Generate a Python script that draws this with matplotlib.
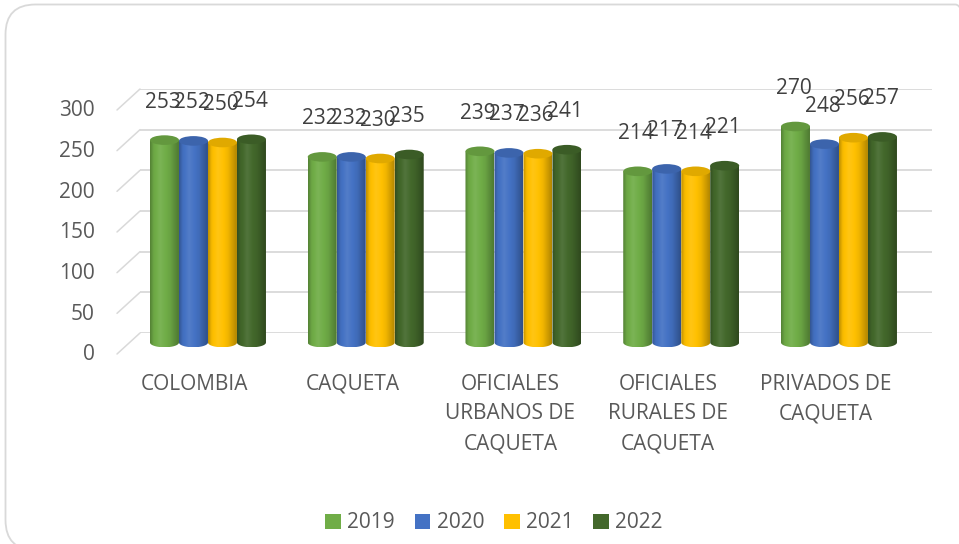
import numpy as np
import matplotlib
matplotlib.use("Agg")
import matplotlib.pyplot as plt
from matplotlib.patches import Ellipse, PathPatch, Patch, FancyBboxPatch
from matplotlib.path import Path
from matplotlib.colors import to_rgb

plt.rcParams['font.family'] = ['Open Sans', 'DejaVu Sans']

categories = ["COLOMBIA", "CAQUETA", "OFICIALES\nURBANOS DE\nCAQUETA",
              "OFICIALES\nRURALES DE\nCAQUETA", "PRIVADOS DE\nCAQUETA"]
years = ["2019", "2020", "2021", "2022"]
scores_2019 = [253, 232, 239, 214, 270]
scores_2020 = [252, 232, 237, 217, 248]
scores_2021 = [250, 230, 236, 214, 256]
scores_2022 = [254, 235, 241, 221, 257]
y_ticks = [0, 50, 100, 150, 200, 250, 300]

series = [scores_2019, scores_2020, scores_2021, scores_2022]
colors = ["#70AD47", "#4472C4", "#FFC000", "#43682B"]
grid_c = "#d9d9d9"
text_c = "#595959"
fs = 15

W, H = 959, 544
fig = plt.figure(figsize=(W / 100, H / 100), dpi=100)

# rounded chart border (bottom and right run off the canvas)
fig.add_artist(FancyBboxPatch((0.055, -0.06), 9.8, 5.455,
                              boxstyle="round,pad=0,rounding_size=0.3",
                              transform=fig.dpi_scale_trans, fill=False,
                              edgecolor=grid_c, lw=1.3))

# back wall: gridlines, floor diagonals and value labels
ax_back = fig.add_axes([140 / W, 211 / H, 792 / W, 244 / H])
ax_back.set_xlim(0, 1)
ax_back.set_ylim(0, 300)
ax_back.axis('off')
ytr = ax_back.get_yaxis_transform()
for v in y_ticks:
    ax_back.axhline(v, color=grid_c, lw=1.3)
    ax_back.annotate('', xy=(0, v), xycoords=ytr, xytext=(-23, -21),
                     textcoords='offset pixels',
                     arrowprops=dict(arrowstyle='-', color=grid_c, lw=1.1,
                                     shrinkA=0, shrinkB=0))
    ax_back.annotate(str(v), xy=(0, v), xycoords=ytr, xytext=(-45, -22),
                     textcoords='offset pixels', ha='right', va='center',
                     fontsize=fs, color=text_c)

ax = fig.add_axes([129.1 / W, 177.5 / H, 788.75 / W, 296 / H])
ax.axis('off')


def shade(rgb, k):
    rgb = np.asarray(rgb)
    if k < 0:
        return rgb * (1 + k)
    return rgb + (1 - rgb) * k


def cylinder(ax, xc, top, width, color, eh):
    x0, x1 = xc - width / 2, xc + width / 2
    t = np.linspace(np.pi, 2 * np.pi, 40)
    bottom = np.column_stack([xc + width / 2 * np.cos(t), eh / 2 * np.sin(t)])
    verts = np.vstack([[x0, top], bottom, [x1, top], [x0, top]])
    codes = [Path.MOVETO] + [Path.LINETO] * (len(verts) - 2) + [Path.CLOSEPOLY]
    body = PathPatch(Path(verts, codes), facecolor='none', edgecolor='none')
    ax.add_patch(body)

    base = to_rgb(color)
    s = np.linspace(0, 1, 64)
    prof = np.interp(s, [0, 0.12, 0.35, 0.7, 1], [-0.25, -0.04, 0.08, -0.06, -0.3])
    img = np.array([[shade(base, k) for k in prof]])
    im = ax.imshow(img, extent=[x0, x1, -eh / 2, top], aspect='auto',
                   interpolation='bilinear', zorder=2)
    im.set_clip_path(body)

    ax.add_patch(Ellipse((xc, top), width, eh, facecolor=shade(base, -0.12),
                         edgecolor='none', zorder=3))


bw = 0.1838
eh = 12
offsets = (np.arange(4) - 1.5) * bw
for j, (vals, c) in enumerate(zip(series, colors)):
    for i, v in enumerate(vals):
        xc = i + offsets[j]
        cylinder(ax, xc, v, bw, c, eh)
        ax.annotate(str(v), xy=(xc, v), xytext=(-2, 38),
                    textcoords='offset pixels', ha='center', va='center',
                    fontsize=fs, color='#404040', zorder=5)

for i, cat in enumerate(categories):
    ax.annotate(cat, xy=(i, 0), xytext=(-13, -31), textcoords='offset pixels',
                ha='center', va='top', linespacing=1.55, fontsize=fs,
                color=text_c)

ax.set_xlim(-0.5, 4.5)
ax.set_ylim(-30, 340)

handles = [Patch(facecolor=c) for c in colors]
fig.legend(handles, years, loc='center', bbox_to_anchor=(494 / W, 1 - 523 / H),
           ncol=4, frameon=False, fontsize=fs, handlelength=0.75,
           handleheight=0.75, handletextpad=0.3, columnspacing=0.95,
           labelcolor=text_c)

fig.savefig("out.png", dpi=100)
